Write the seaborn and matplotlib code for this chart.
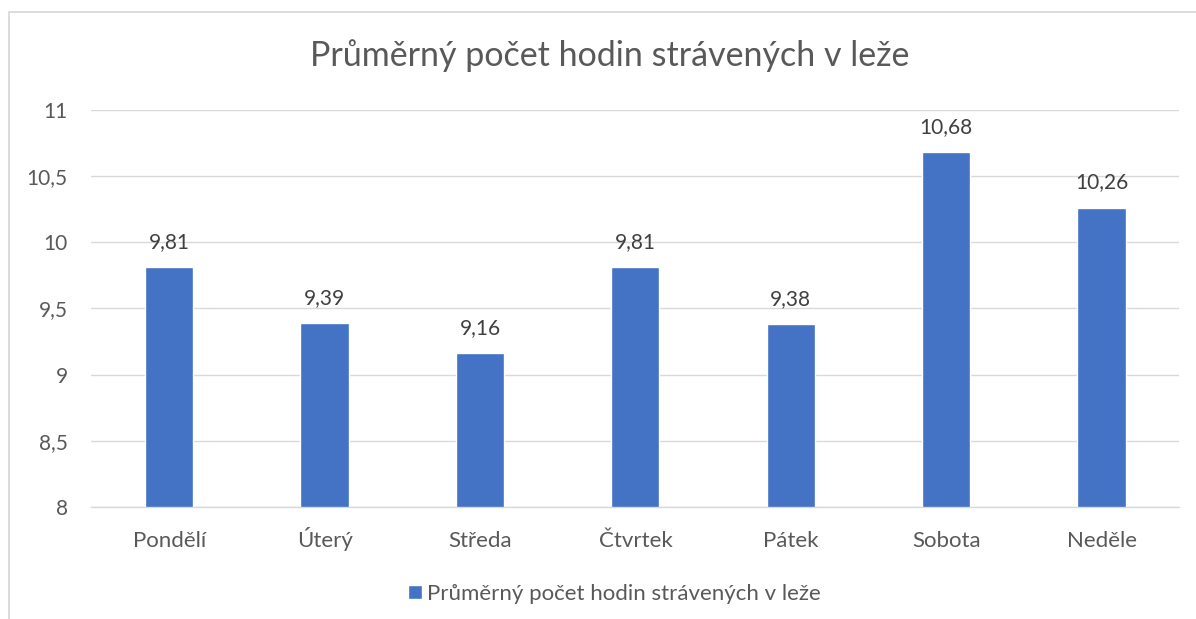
import matplotlib
matplotlib.use("Agg")
import matplotlib.pyplot as plt
import seaborn as sns
import pandas as pd
from matplotlib.patches import Rectangle

days = ["Pondělí", "Úterý", "Středa", "Čtvrtek", "Pátek", "Sobota", "Neděle"]
values = [9.81, 9.39, 9.16, 9.81, 9.38, 10.68, 10.26]
series_name = "Průměrný počet hodin strávených v leže"
title = "Průměrný počet hodin strávených v leže"
yticks = [8, 8.5, 9, 9.5, 10, 10.5, 11]

sns.set_theme(style="white")
plt.rcParams['font.family'] = ['Lato', 'DejaVu Sans']

fig = plt.figure(figsize=(11.96, 6.19), dpi=100)
ax = fig.add_axes([0.0765, 0.181, 0.9095, 0.6415])

df = pd.DataFrame({"day": days, "value": values})
sns.barplot(data=df, x="day", y="value", color="#4472C4", width=0.31,
            saturation=1, label=series_name, ax=ax)

ax.set_ylim(8, 11)
ax.set_yticks(yticks)
ax.set_yticklabels([f"{t:g}".replace(".", ",") for t in yticks])
ax.set_xlim(-0.5, len(days) - 0.5)
ax.set_xlabel("")
ax.set_ylabel("")
ax.grid(axis="y", color="#d9d9d9", linewidth=1)
ax.set_axisbelow(True)
for s in ["top", "right", "left"]:
    ax.spines[s].set_visible(False)
ax.spines["bottom"].set_color("#d9d9d9")
ax.spines["bottom"].set_linewidth(1)
ax.tick_params(axis="both", length=0, colors="#595959")
ax.tick_params(axis="y", pad=17, labelsize=15)
ax.tick_params(axis="x", pad=29, labelsize=16)
for lbl in ax.get_xticklabels():
    lbl.set_verticalalignment("baseline")

for i, v in enumerate(values):
    ax.annotate(f"{v:.2f}".replace(".", ","), (i, v), xytext=(0, 11),
                textcoords="offset points", ha="center", va="bottom",
                fontsize=15, color="#404040")

fig.text(0.51, 0.91, title, ha="center", va="center", fontsize=24.5, color="#595959")

leg = ax.legend(loc="center", bbox_to_anchor=(0.481, -0.218), frameon=False,
                fontsize=16, handlelength=0.6, handleheight=0.6, handletextpad=0.25)
for t in leg.get_texts():
    t.set_color("#595959")

fig.patches.append(Rectangle((8.5 / 1196, -0.1), 1.2, 1 - 11.5 / 619 + 0.1,
                             transform=fig.transFigure, fill=False,
                             edgecolor="#d9d9d9", linewidth=1.3))

fig.savefig("out.png", dpi=100, facecolor="white")
